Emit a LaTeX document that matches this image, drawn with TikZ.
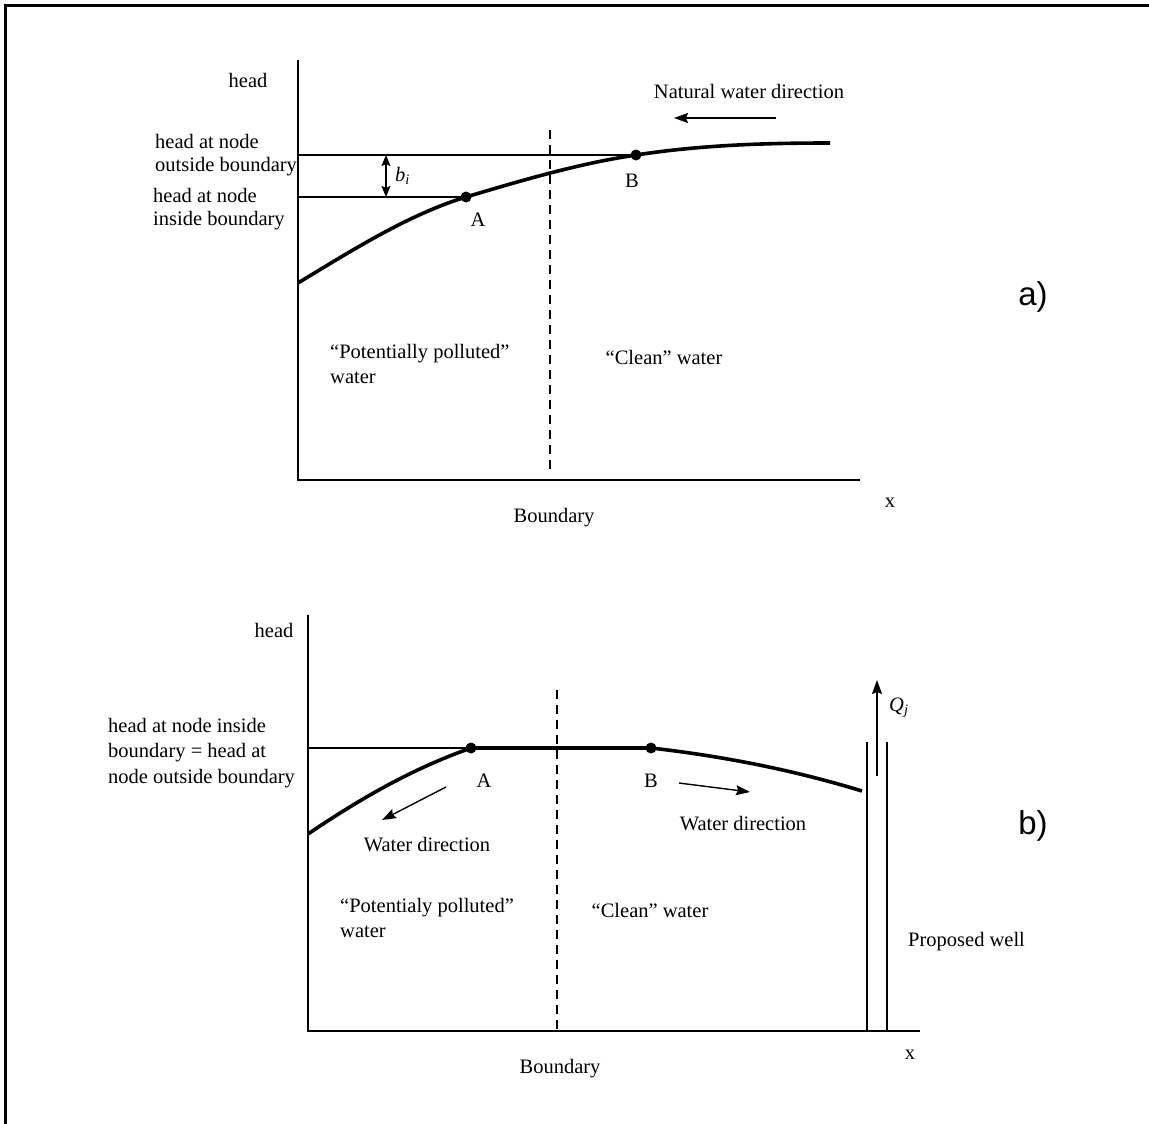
\documentclass[tikz,border=0pt]{standalone}
\usepackage{fontspec}
\setmainfont{Liberation Serif}
\newfontfamily\labfont{Liberation Sans}
\usetikzlibrary{arrows.meta}
\begin{document}
\begin{tikzpicture}[x=1pt,y=-1pt,
  txt/.style={font=\fontsize{20.5}{25.5}\selectfont, inner sep=0pt},
  ltxt/.style={txt, align=left},
  axis/.style={line width=1.8pt},
  thin/.style={line width=1.4pt},
  curve/.style={line width=3.6pt},
  bound/.style={line width=1.4pt, dash pattern=on 9pt off 6pt},
  arr/.style={line width=1.4pt, -{Stealth[length=14pt,width=10pt,inset=2pt]}},
  dot/.style={circle, fill=black, inner sep=0pt, minimum size=11pt},
  panel/.style={font=\labfont\fontsize{33}{36}\selectfont, inner sep=0pt}]
\useasboundingbox (0,0) rectangle (1149,1124);
% frame
\draw[line width=3pt] (5,1124) -- (5,6) -- (1149,6);

% ---------- panel a ----------
\coordinate (aO) at (298,480);
\coordinate (aTop) at (298,60);
\coordinate (aX) at (860,480);
\draw[axis] (aTop) -- (aO) -- (aX);
\node[txt] (ahead) at (248,80) {head};
\node[txt] (ax) at (890,503) {x};
\node[txt] (abound) at (554,518) {Boundary};
\coordinate (aD1) at (550,130);
\coordinate (aD2) at (550,474);
\draw[bound] (aD1) -- (aD2);
\coordinate (A1) at (466,197);
\coordinate (B1) at (636,155);
\coordinate (aL1) at (298,155);
\coordinate (aL2) at (298,197);
\draw[thin] (aL1) -- (B1);
\draw[thin] (aL2) -- (A1);
\draw[curve] (298,283) .. controls (354,249) and (410,214) .. (A1)
  .. controls (523,180) and (579,163.5) .. (B1)
  .. controls (701,145) and (765,143) .. (830,143);
\node[dot] (dA1) at (A1) {};
\node[dot] (dB1) at (B1) {};
\node[txt] (labA1) at (478,220) {A};
\node[txt] (labB1) at (632,181) {B};
\coordinate (bi1) at (386,155);
\coordinate (bi2) at (386,197);
\draw[line width=1.4pt, {Stealth[length=11pt,width=9pt,inset=2pt]}-{Stealth[length=11pt,width=9pt,inset=2pt]}] (bi1) -- (bi2);
\node[txt, anchor=west] (bi) at (395,176) {\textit{b}\textsubscript{\textit{i}}};
\node[txt, anchor=west] (out1) at (155,141) {head at node};
\node[txt, anchor=west] (out2) at (155,167) {outside boundary};
\node[txt, anchor=west] (in1) at (153,195) {head at node};
\node[txt, anchor=west] (in2) at (153,221) {inside boundary};
\node[txt] (nat) at (749,91) {Natural water direction};
\coordinate (nw1) at (776,118);
\coordinate (nw2) at (674,118);
\draw[arr] (nw1) -- (nw2);
\node[ltxt, anchor=north west] (polA) at (330,344) {“Potentially polluted”\\water};
\node[txt] (cleanA) at (664,357) {“Clean” water};
\node[panel] (pa) at (1033,297) {a)};

% ---------- panel b ----------
\coordinate (bO) at (308,1031);
\coordinate (bTop) at (308,615);
\coordinate (bX) at (920,1031);
\draw[axis] (bTop) -- (bO) -- (bX);
\node[txt] (bhead) at (274,630) {head};
\node[txt] (bx) at (910,1055) {x};
\node[txt] (bbound) at (560,1069) {Boundary};
\coordinate (bD1) at (557,690);
\coordinate (bD2) at (557,1031);
\draw[bound] (bD1) -- (bD2);
\coordinate (A2) at (471,748);
\coordinate (B2) at (651,748);
\coordinate (bL) at (308,748);
\draw[thin] (bL) -- (A2);
\draw[curve] (308,834) .. controls (370,792) and (420,766) .. (A2) -- (B2)
  .. controls (730,757) and (800,772) .. (862,791);
\node[dot] (dA2) at (A2) {};
\node[dot] (dB2) at (B2) {};
\node[txt] (labA2) at (484,781) {A};
\node[txt] (labB2) at (651,781) {B};
\coordinate (wl1) at (446,787);
\coordinate (wl2) at (382,820);
\draw[arr] (wl1) -- (wl2);
\coordinate (wr1) at (679,783);
\coordinate (wr2) at (750,792);
\draw[arr] (wr1) -- (wr2);
\node[txt] (wdL) at (427,845) {Water direction};
\node[txt] (wdR) at (743,824) {Water direction};
\node[ltxt, anchor=west] (hb) at (108,753) {head at node inside\\boundary = head at\\node outside boundary};
\coordinate (w1t) at (867,742);
\coordinate (w1b) at (867,1031);
\coordinate (w2t) at (887,742);
\coordinate (w2b) at (887,1031);
\draw[axis] (w1t) -- (w1b);
\draw[axis] (w2t) -- (w2b);
\coordinate (q1) at (877,776);
\coordinate (q2) at (877,680);
\draw[arr] (q1) -- (q2);
\node[txt, anchor=west] (Q) at (889,708) {\textit{Q}\textsubscript{\textit{j}}};
\node[txt, anchor=west] (well) at (908,942) {Proposed well};
\node[ltxt, anchor=north west] (polB) at (340,898) {“Potentialy polluted”\\water};
\node[txt] (cleanB) at (650,910) {“Clean” water};
\node[panel] (pb) at (1033,826) {b)};
\end{tikzpicture}
\end{document}
